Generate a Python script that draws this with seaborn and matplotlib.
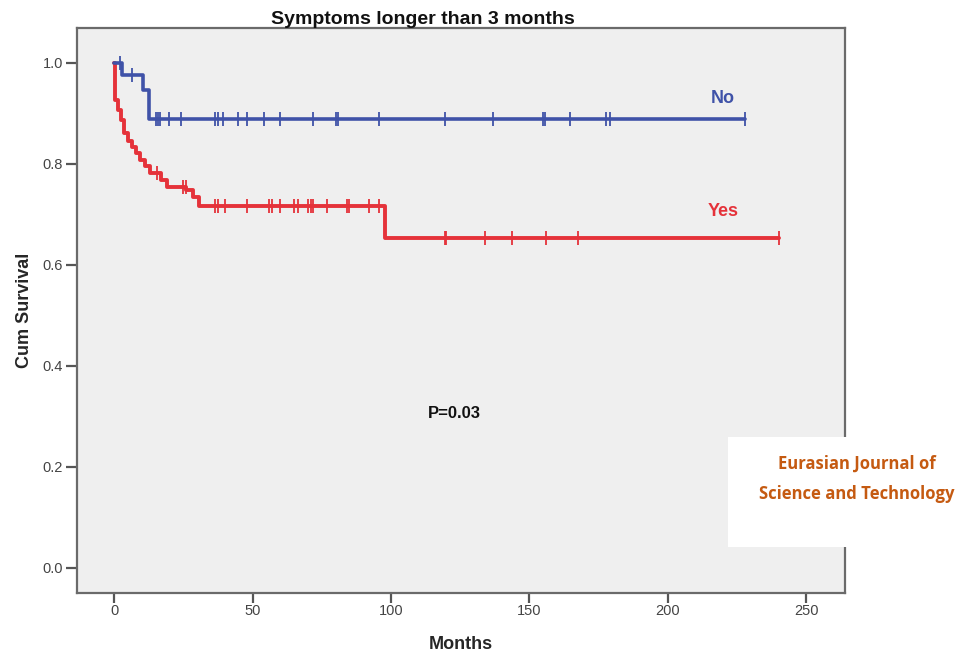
import numpy as np
import pandas as pd
import matplotlib
matplotlib.use("Agg")
import matplotlib.pyplot as plt
import seaborn as sns
from matplotlib.patches import Rectangle

# ---- data ----
no_times = [0, 2.8, 10.6, 12.7, 228]
no_surv = [1.0, 0.976, 0.947, 0.889, 0.889]
no_cens_t = [2, 6.4, 15, 15.8, 16.5, 20, 24, 36.5, 37.6, 39.4, 44.8, 48, 54, 60,
             72, 80, 81, 95.7, 119.5, 136.8, 155, 155.6, 164.6, 177.6, 179, 228]

yes_times = [0, 0.4, 1.5, 2.5, 3.5, 5, 6.5, 8, 9.5, 11, 13, 17, 19, 26, 28.5, 30.5, 98, 240]
yes_surv = [1.0, 0.927, 0.907, 0.887, 0.861, 0.846, 0.834, 0.821, 0.808, 0.795,
            0.782, 0.768, 0.755, 0.749, 0.735, 0.716, 0.653, 0.653]
yes_cens_t = [15.5, 25, 25.8, 36.5, 37.6, 40, 48, 56, 57, 60, 65, 66.5, 70, 71, 72,
              77, 84, 85, 92, 95.7, 119.5, 120, 134, 143.7, 156, 167.5, 240]

x_ticks = [0, 50, 100, 150, 200, 250]
y_ticks = [0.0, 0.2, 0.4, 0.6, 0.8, 1.0]

blue = "#3f52a8"
red = "#e5323a"


def surv_at(times, surv, t):
    idx = np.searchsorted(times, t, side="right") - 1
    return surv[max(idx, 0)]


sns.set_style("white")
plt.rcParams["font.family"] = ["Liberation Sans", "DejaVu Sans"]

fig = plt.figure(figsize=(9.67, 6.58), dpi=100)
ax = fig.add_axes([77 / 967, 1 - 593 / 658, (845 - 77) / 967, (593 - 28) / 658])
ax.set_facecolor("#efefef")

df_no = pd.DataFrame({"t": no_times, "s": no_surv})
df_yes = pd.DataFrame({"t": yes_times, "s": yes_surv})
sns.lineplot(data=df_yes, x="t", y="s", ax=ax, color=red, lw=2.8,
             drawstyle="steps-post", estimator=None, sort=False)
sns.lineplot(data=df_no, x="t", y="s", ax=ax, color=blue, lw=2.6,
             drawstyle="steps-post", estimator=None, sort=False)

dc_no = pd.DataFrame({"t": no_cens_t,
                      "s": [surv_at(no_times, no_surv, t) for t in no_cens_t]})
dc_yes = pd.DataFrame({"t": yes_cens_t,
                       "s": [surv_at(yes_times, yes_surv, t) for t in yes_cens_t]})
sns.scatterplot(data=dc_no, x="t", y="s", ax=ax, marker="|", s=90,
                color=blue, linewidth=1.3, zorder=4)
sns.scatterplot(data=dc_yes, x="t", y="s", ax=ax, marker="|", s=90,
                color=red, linewidth=1.3, zorder=4)

ax.set_xlim(-13.4, 264)
ax.set_ylim(-0.05, 1.069)
ax.set_xticks(x_ticks)
ax.set_xticklabels([str(v) for v in x_ticks])
ax.set_yticks(y_ticks)
ax.set_yticklabels([f"{v:.1f}" for v in y_ticks])
ax.tick_params(axis="both", which="major", bottom=True, left=True,
               direction="out", length=8, width=1.6,
               color="#555555", labelsize=10.5, labelcolor="#444444", pad=2)
ax.tick_params(axis="x", length=7, pad=1)
for sp in ax.spines.values():
    sp.set_color("#6a6a6a")
    sp.set_linewidth(1.6)

ax.set_xlabel("Months", fontsize=13, fontweight="bold", labelpad=13)
ax.set_ylabel("Cum Survival", fontsize=13, fontweight="bold", labelpad=7)

fig.text(423 / 967, 1 - 19 / 658, "Symptoms longer than 3 months",
         ha="center", va="center", fontsize=14, fontweight="bold", color="#111111")

ax.text(220, 0.93, "No", color=blue, fontsize=13, fontweight="bold",
        ha="center", va="center")
ax.text(220, 0.705, "Yes", color=red, fontsize=13, fontweight="bold",
        ha="center", va="center")
ax.text(123, 0.305, "P=0.03", color="#111111", fontsize=12, fontweight="bold",
        ha="center", va="center")

# watermark box
fig.patches.append(Rectangle((728 / 967, 1 - 547 / 658), (967 - 728) / 967, 110 / 658,
                             transform=fig.transFigure, facecolor="white",
                             edgecolor="none", zorder=10))
fig.text(857 / 967, 1 - 464 / 658, "Eurasian Journal of", ha="center", va="center",
         fontsize=12, fontweight="bold", color="#c55a11", family=["Open Sans", "DejaVu Sans"],
         zorder=11)
fig.text(857 / 967, 1 - 494 / 658, "Science and Technology", ha="center", va="center",
         fontsize=12, fontweight="bold", color="#c55a11", family=["Open Sans", "DejaVu Sans"],
         zorder=11)

fig.savefig("out.png", dpi=100, facecolor="white")
